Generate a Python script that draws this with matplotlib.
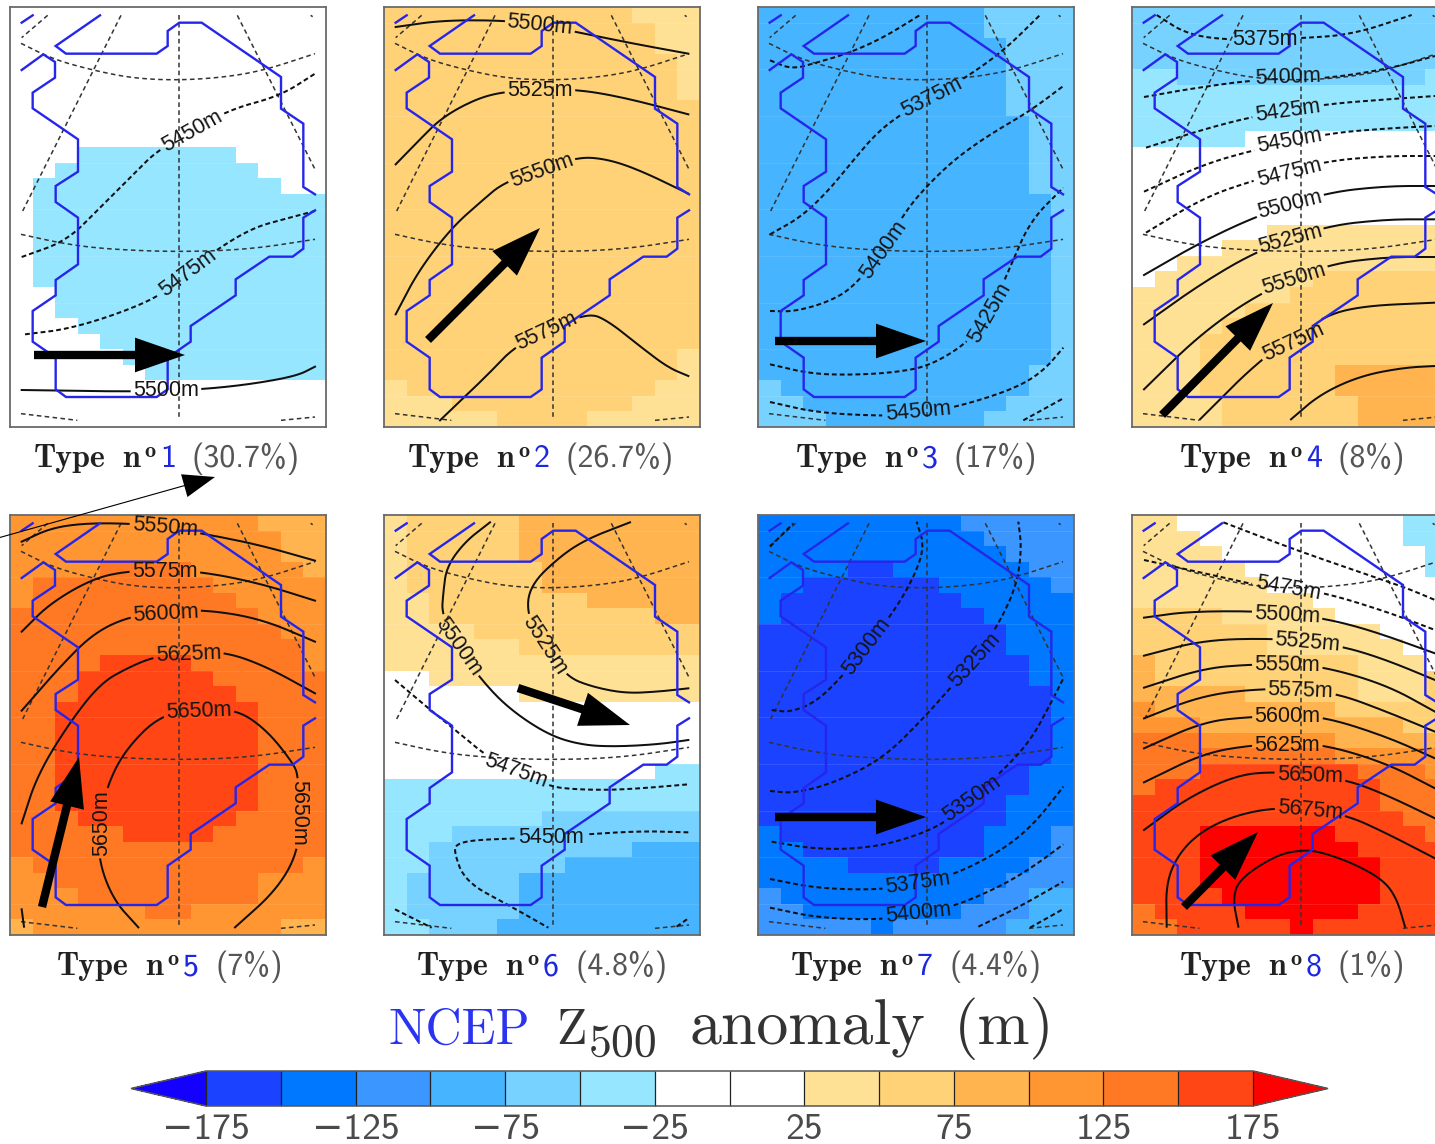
import re
import numpy as np
import matplotlib
matplotlib.use("Agg")
import matplotlib.pyplot as plt
from matplotlib.colors import ListedColormap, BoundaryNorm
from matplotlib.colorbar import ColorbarBase
from matplotlib.patches import FancyArrowPatch

W, H = 1435, 1144

# ---- colour classes (anomaly in m) -----------------------------------------
LEVELS = list(range(-175, 176, 25))
CLASS_COLORS = ["#1a42ff", "#0078ff", "#3c96ff", "#46b4ff", "#78d2ff", "#96e6ff",
                "#ffffff", "#ffffff", "#ffe196", "#ffd278", "#ffb450", "#ff9632",
                "#ff7823", "#ff4614"]
UNDER_COLOR, OVER_COLOR = "#1400ff", "#ff0000"
CLASS_VALUES = {"a": -162.5, "b": -137.5, "c": -112.5, "d": -87.5, "e": -62.5, "f": -37.5,
                ".": 0.0, "g": 37.5, "h": 62.5, "i": 87.5, "j": 112.5, "k": 137.5,
                "l": 162.5, "m": 187.5}

# ---- anomaly fields: 27 rows x 14 columns, run-length coded ------------------
FIELD_1 = ["14."] * 9 + ["3.7f4.", "2.9f3.", "1.11f2."] + ["1.13f"] * 6 + \
          ["2.12f"] * 2 + ["3.11f", "4.10f", "5.9f", "6.8f"] + ["14."] * 3
FIELD_2 = ["11h3g"] + ["12h2g"] * 2 + ["13h1g"] * 3 + ["14h"] * 16 + ["13h1g"] * 2 + \
          ["1g11h2g", "3g8h3g", "5g4h5g"]
FIELD_3 = ["10d4e"] * 2 + ["11d3e"] * 5 + ["12d2e"] * 5 + ["13d1e"] * 11 + ["12d2e"] + \
          ["1e11d2e", "2e9d3e", "3e7d4e"]
FIELD_4 = ["14e"] * 4 + ["2f11e1f"] + ["14f"] * 3 + ["5f9."] + ["14."] * 5 + \
          ["6.8g", "4.10g", "2.12g", "1.7g6h", "7g7h", "5g9h", "4g10h"] + ["3g11h"] * 2 + \
          ["3g6h5i"] * 2 + ["4g6h4i"] * 2
FIELD_5 = ["11j3i"] + ["12j2i"] * 2 + ["4j4k5j1i", "1j8k5j", "1j9k4j", "11k3j", "12k2j",
          "13k1j", "4k4l5k1j", "3k6l5k", "3k7l4k"] + ["2k9l3k"] * 7 + \
          ["3k7l4k", "5k4l5k", "14k", "1j12k1j", "2j9k3j", "3j8k3j", "6j2k6j", "1i11j2i"]
FIELD_6 = ["1g5h8i"] * 3 + ["1g6h7i"] * 2 + ["2g7h5i", "2g10h2i", "4g10h", "6g8h", "14g",
          "2.12g", "6.8g"] + ["14."] * 4 + ["12.2f"] + ["14f"] * 2 + \
          ["7f7e", "3f11e", "2f9e3d", "2f6e6d"] + ["1f5e8d"] * 3 + ["2f3e9d"]
FIELD_7 = ["9b5c", "10b4c", "11b3c", "4b2a6b2c", "2b6a5b1c", "1b8a5b", "1b9a4b"] + \
          ["11a3b"] * 2 + ["12a2b"] * 2 + ["13a1b"] * 5 + ["12a2b"] * 2 + ["11a3b"] * 2 + \
          ["1b9a3b1c", "2b8a3b1c", "4b4a4b2c", "11b3c", "1c9b2c2d", "2c7b3c2d", "5c1b5c3d"]
FIELD_8 = ["2g10.2f", "3g9.2f", "4g9.1f", "5g8.1f", "6g8.", "8g6.", "4h5g5.", "6h5g3.",
           "6h6g2.", "1i9h3g1.", "1i9h3g1h", "5i5h3g1h", "1j8i5h", "3j9i2h", "3k6j5i",
           "9k5j", "3k7l3k1j", "1k10l3k", "11l3k", "12l2k", "3l6m4l1k", "3l7m4l",
           "3l8m3l", "3l8m3l", "4l7m3l", "1k4l5m4l", "2k5l1m6l"]
FIELDS = [FIELD_1, FIELD_2, FIELD_3, FIELD_4, FIELD_5, FIELD_6, FIELD_7, FIELD_8]

# ---- background map (reference map units) ------------------------------------
COAST_MAIN = [(65, 207), (130, 160), (165, 183), (165, 230), (98, 275), (98, 322), (234, 415),
              (234, 512), (167, 555), (167, 603), (234, 650), (234, 790), (167, 837), (167, 883),
              (98, 930), (98, 1022), (167, 1070), (167, 1165), (198, 1188), (470, 1188),
              (503, 1165), (503, 1070), (572, 1022), (572, 975), (707, 883), (707, 835),
              (808, 767), (878, 767), (910, 743), (910, 650), (945, 628)]
COAST_NORTH = [(945, 580), (910, 558), (910, 368), (843, 323), (843, 228), (605, 65), (538, 65),
               (503, 90), (503, 135), (470, 158), (198, 158), (167, 135), (300, 43)]
COAST_ISLE = [(65, 65), (98, 43)]
GRATICULE = [
    [(538, 43), (538, 1258)],
    [(363, 43), (68, 630)],
    [(143, 43), (65, 110)],
    [(712, 43), (945, 505)],
    [(63, 127), (160, 175), (280, 208), (400, 232), (538, 238), (680, 228), (795, 207), (945, 158)],
    [(63, 700), (200, 730), (330, 745), (538, 753), (750, 745), (945, 715)],
    [(63, 1238), (232, 1258)],
    [(843, 1258), (945, 1248)],
    [(932, 43), (938, 47)],
]

# ---- geopotential height contours: (level, vertices, [(x, y, rotation), ...]) ---
CONTOURS_1 = [
    (5450, [(65, 768), (200, 720), (300, 620), (400, 520), (470, 450), (578, 390), (690, 325), (840, 285), (945, 218)], [(578, 390, 29)]),
    (5475, [(75, 1000), (200, 985), (350, 940), (480, 885), (565, 815), (650, 745), (760, 680), (850, 655), (945, 630)], [(565, 815, 37)]),
    (5500, [(65, 1167), (385, 1172), (497, 1168), (605, 1165), (750, 1150), (890, 1125), (945, 1097)], [(497, 1168, 0)]),
]
CONTOURS_2 = [
    (5500, [(62, 78), (200, 58), (385, 58), (495, 72), (600, 92), (760, 125), (940, 158)], [(495, 72, -6)]),
    (5525, [(62, 490), (130, 420), (200, 350), (300, 295), (385, 272), (495, 268), (605, 265), (750, 290), (940, 340)], [(495, 270, 0)]),
    (5550, [(62, 940), (130, 810), (230, 680), (320, 600), (385, 545), (500, 508), (610, 467), (700, 475), (800, 510), (940, 578)], [(500, 508, 20)]),
    (5575, [(195, 1258), (340, 1120), (415, 1040), (515, 990), (640, 935), (700, 960), (800, 1040), (880, 1100), (940, 1125)], [(515, 990, 25)]),
]
CONTOURS_3 = [
    (5375, [(60, 178), (125, 205), (200, 185), (300, 155), (400, 110), (510, 42)], []),
    (5375, [(60, 700), (150, 650), (230, 575), (300, 490), (380, 395), (460, 335), (545, 285), (640, 235), (760, 150), (870, 42)], [(545, 288, 27)]),
    (5400, [(60, 930), (130, 932), (230, 905), (310, 860), (400, 745), (470, 625), (540, 545), (620, 470), (720, 400), (840, 330), (940, 255)], [(400, 745, 55)]),
    (5425, [(60, 1090), (180, 1118), (300, 1122), (430, 1115), (540, 1095), (660, 1020), (720, 935), (780, 800), (840, 660), (940, 560)], [(720, 935, 60)]),
    (5450, [(60, 1203), (200, 1235), (390, 1245), (505, 1240), (650, 1210), (800, 1160), (880, 1110), (940, 1040)], [(505, 1232, 5)]),
    (5475, [(820, 1258), (940, 1192)], []),
]
CONTOURS_4 = [
    (5375, [(110, 42), (200, 100), (330, 118), (545, 112), (700, 100), (875, 42)], [(435, 115, 0)]),
    (5400, [(72, 288), (200, 265), (410, 235), (600, 235), (800, 205), (945, 165)], [(505, 230, 2)]),
    (5425, [(78, 440), (250, 385), (405, 345), (610, 310), (800, 295), (945, 285)], [(505, 330, 8)]),
    (5450, [(72, 572), (250, 490), (410, 445), (615, 398), (800, 382), (945, 375)], [(508, 420, 10)]),
    (5475, [(78, 695), (250, 590), (410, 535), (615, 480), (800, 465), (945, 465)], [(508, 515, 14)]),
    (5500, [(72, 822), (240, 725), (410, 645), (615, 575), (800, 555), (945, 555)], [(510, 610, 14)]),
    (5525, [(72, 970), (240, 850), (410, 750), (615, 675), (800, 655), (945, 655)], [(510, 715, 15)]),
    (5550, [(72, 1165), (240, 1000), (420, 875), (620, 790), (800, 768), (945, 768)], [(523, 835, 17)]),
    (5575, [(240, 1255), (420, 1075), (600, 950), (720, 915), (945, 905)], [(520, 1025, 25)]),
    (5600, [(513, 1255), (600, 1180), (720, 1125), (850, 1100), (945, 1095)], []),
]
CONTOURS_5 = [
    (5550, [(65, 215), (150, 175), (250, 160), (385, 160), (495, 172), (605, 190), (780, 225), (945, 272)], [(495, 172, -5)]),
    (5575, [(65, 485), (150, 400), (280, 325), (385, 303), (495, 303), (605, 305), (780, 340), (945, 392)], [(495, 305, 0)]),
    (5600, [(65, 722), (180, 590), (280, 490), (385, 440), (497, 428), (605, 418), (780, 445), (945, 515)], [(497, 430, 3)]),
    (5625, [(65, 1060), (110, 920), (200, 770), (300, 640), (390, 590), (465, 560), (565, 550), (675, 545), (800, 590), (945, 670)], [(565, 553, 2)]),
    (5650, [(415, 1372), (340, 1290), (295, 1170), (300, 1060), (320, 950), (375, 840), (480, 735), (597, 720), (710, 718), (800, 780), (880, 880), (895, 920), (895, 1030), (895, 1145), (830, 1260), (705, 1372)],
     [(305, 1060, 90), (597, 725, 2), (895, 1030, -90)]),
    (5600, [(65, 1318), (72, 1370)], []),
]
CONTOURS_6 = [
    (5500, [(345, 52), (270, 110), (215, 185), (205, 260), (200, 330), (250, 425), (315, 520), (400, 610), (520, 690), (620, 720), (720, 725), (850, 718), (940, 705)], [(250, 425, -55)]),
    (5525, [(765, 52), (640, 100), (560, 150), (465, 240), (455, 330), (510, 422), (575, 515), (650, 545), (750, 565), (850, 560), (940, 550)], [(510, 422, -57)]),
    (5475, [(60, 525), (160, 610), (260, 690), (330, 750), (422, 797), (525, 845), (600, 853), (700, 855), (800, 850), (940, 838)], [(422, 797, -20)]),
    (5450, [(940, 982), (800, 978), (630, 988), (527, 997), (425, 1000), (300, 1005), (250, 1015), (235, 1035), (270, 1130), (400, 1200), (520, 1268)], [(527, 997, 0)]),
    (5475, [(60, 1213), (170, 1268)], []),
    (5425, [(905, 1265), (940, 1240)], []),
]
CONTOURS_7 = [
    (5275, [(60, 125), (130, 55)], []),
    (5300, [(65, 615), (120, 622), (200, 590), (280, 510), (350, 425), (420, 335), (480, 240), (525, 130), (500, 50)], [(350, 425, 53)]),
    (5325, [(60, 858), (130, 865), (250, 835), (400, 760), (520, 640), (600, 550), (675, 465), (750, 350), (800, 240), (815, 130), (805, 50)], [(675, 465, 48)]),
    (5350, [(65, 1010), (180, 1030), (300, 1033), (430, 1015), (580, 960), (665, 880), (750, 805), (840, 710), (905, 590), (940, 520)], [(665, 880, 35)]),
    (5375, [(60, 1122), (200, 1150), (390, 1155), (505, 1135), (610, 1110), (750, 1040), (850, 960), (940, 845)], [(505, 1135, 8)]),
    (5400, [(60, 1208), (200, 1238), (390, 1245), (505, 1225), (610, 1205), (750, 1145), (850, 1085), (940, 1018)], [(505, 1225, 6)]),
    (5425, [(685, 1265), (800, 1210), (940, 1130)], []),
    (5450, [(840, 1268), (940, 1212)], []),
]
CONTOURS_8 = [
    (5450, [(310, 52), (500, 125), (700, 195), (850, 245), (945, 285)], []),
    (5475, [(72, 165), (300, 215), (405, 240), (505, 250), (610, 262), (800, 320), (945, 375)], [(505, 250, -10)]),
    (5500, [(72, 338), (200, 320), (395, 318), (502, 328), (612, 340), (750, 375), (945, 445)], [(502, 330, -3)]),
    (5525, [(72, 452), (250, 405), (455, 400), (563, 412), (672, 425), (800, 465), (945, 525)], [(563, 412, -5)]),
    (5550, [(72, 548), (250, 490), (395, 478), (502, 480), (612, 485), (800, 540), (945, 620)], [(502, 480, -1)]),
    (5575, [(72, 640), (250, 570), (435, 550), (541, 558), (652, 565), (800, 620), (945, 680)], [(541, 558, -2)]),
    (5600, [(72, 730), (250, 650), (395, 635), (502, 635), (612, 635), (800, 695), (945, 760)], [(502, 635, 0)]),
    (5625, [(72, 832), (250, 745), (395, 720), (502, 720), (612, 718), (800, 775), (945, 850)], [(502, 722, 0)]),
    (5650, [(72, 975), (200, 880), (350, 810), (465, 800), (570, 812), (682, 825), (800, 870), (945, 940)], [(570, 812, -2)]),
    (5675, [(140, 1265), (138, 1130), (180, 1040), (250, 975), (350, 930), (465, 908), (570, 917), (680, 930), (800, 985), (945, 1060)], [(570, 917, -5)]),
    (5700, [(355, 1265), (338, 1180), (360, 1120), (470, 1050), (545, 1035), (600, 1040), (700, 1075), (790, 1125), (830, 1180), (855, 1265)], []),
]
CONTOURS = [CONTOURS_1, CONTOURS_2, CONTOURS_3, CONTOURS_4, CONTOURS_5, CONTOURS_6, CONTOURS_7, CONTOURS_8]

# ---- panel captions and wind arrows -------------------------------------------
TYPE_NUMBERS = ["1", "2", "3", "4", "5", "6", "7", "8"]
TYPE_SHARES = ["(30.7%)", "(26.7%)", "(17%)", "(8%)", "(7%)", "(4.8%)", "(4.4%)", "(1%)"]
ARROWS = [((34, 355), (185, 355)), ((428, 340), (540, 228)), ((775, 341), (926, 341)),
          ((1162, 415), (1273, 303)), ((42, 907), (79, 757)), ((518, 688), (630, 725)),
          ((775, 817), (926, 817)), ((1184, 907), (1258, 832))]
STRAY_ARROW = ((-2, 538), (215, 477))
CBAR_TICKS = [-175, -125, -75, -25, 25, 75, 125, 175]

# ---- layout (pixels) -----------------------------------------------------------
PANEL_LEFT = [10, 384, 758, 1132, 10, 384, 758, 1132]
PANEL_TOP = [7, 7, 7, 7, 515, 515, 515, 515]
PANEL_W, PANEL_H = 316, 420
MAP_W, MAP_H = 948, 1260
ORIGIN_X = [30, 27, 24, 36, 30, 27, 24, 36]
ORIGIN_Y = [18, 18, 18, 18, 135, 30, 30, 30]
CAPTION_X = [34, 408, 796, 1180, 57, 417, 791, 1180]
CAPTION_BASE = [467, 467, 467, 467, 975, 975, 975, 975]

fig = plt.figure(figsize=(W / 100, H / 100), dpi=100, facecolor="white")


def axes_px(left, top, width, height, **kw):
    return fig.add_axes([left / W, 1 - (top + height) / H, width / W, height / H], **kw)


cmap = ListedColormap(CLASS_COLORS)
cmap.set_under(UNDER_COLOR)
cmap.set_over(OVER_COLOR)
norm = BoundaryNorm(LEVELS, cmap.N)


def decode(rows):
    out = []
    for row in rows:
        cells = []
        for n, key in re.findall(r"(\d+)([a-m.])", row):
            cells += [CLASS_VALUES[key]] * int(n)
        out.append(cells)
    return np.array(out, dtype=float)


def smooth(points, n=3):
    p = np.asarray(points, dtype=float)
    if len(p) < 3:
        return p
    for _ in range(n):
        q = 0.75 * p[:-1] + 0.25 * p[1:]
        r = 0.25 * p[:-1] + 0.75 * p[1:]
        p = np.vstack([p[0], np.column_stack([q, r]).reshape(-1, 2), p[-1]])
    return p


def with_gaps(points, labels, half_w=108, half_h=30):
    p = smooth(points)
    seg = np.hypot(*np.diff(p, axis=0).T)
    s = np.concatenate([[0], np.cumsum(seg)])
    t = np.arange(0, s[-1] + 2, 2.0)
    x, y = np.interp(t, s, p[:, 0]), np.interp(t, s, p[:, 1])
    keep = np.ones_like(x, dtype=bool)
    for lx, ly, rot in labels:
        a = np.deg2rad(rot)
        dx, dy = x - lx, y - ly
        along = dx * np.cos(a) - dy * np.sin(a)
        across = dx * np.sin(a) + dy * np.cos(a)
        keep &= ~((np.abs(along) < half_w) & (np.abs(across) < half_h))
    x = np.where(keep, x, np.nan)
    return x, y


row_edges = np.linspace(0, MAP_H, 28)

for i in range(8):
    ax = axes_px(PANEL_LEFT[i], PANEL_TOP[i], PANEL_W, PANEL_H)
    ax.set_xlim(0, MAP_W)
    ax.set_ylim(MAP_H, 0)
    ax.set_xticks([])
    ax.set_yticks([])
    for sp in ax.spines.values():
        sp.set_color("#6a6a6a")
        sp.set_linewidth(1.3)
    ax.pcolormesh(np.linspace(0, MAP_W, 15), row_edges, decode(FIELDS[i]),
                  cmap=cmap, norm=norm, linewidth=0, rasterized=True)
    ax.hlines(row_edges[1:-1:3], 0, MAP_W, color="white", lw=0.8, alpha=0.1, zorder=1)
    for g in GRATICULE:
        g = smooth(g)
        ax.plot(g[:, 0] - 30, g[:, 1] - 18, color="#333333", lw=1.1, ls=(0, (3.0, 2.2)), zorder=2)
    for c in (COAST_MAIN, COAST_NORTH, COAST_ISLE):
        c = np.array(c, dtype=float)
        ax.plot(c[:, 0] - 30, c[:, 1] - 18, color="#2626ea", lw=1.7, zorder=4,
                solid_joinstyle="miter")
    for level, verts, labels in CONTOURS[i]:
        x, y = with_gaps(verts, labels)
        ls = "-" if level >= 5500 else (0, (2.4, 1.5))
        ax.plot(x - ORIGIN_X[i], y - ORIGIN_Y[i], color="#101010", lw=1.45, ls=ls, zorder=3)
        for lx, ly, rot in labels:
            ax.text(lx - ORIGIN_X[i], ly - ORIGIN_Y[i], f"{level}m", family="Liberation Sans",
                    fontsize=15.5, color="#151515", rotation=rot, rotation_mode="anchor",
                    ha="center", va="center", zorder=5)

# colour bar (axes span the two end triangles as well)
cax = axes_px(131, 1071, 1197, 35)
cb = ColorbarBase(cax, cmap=cmap, norm=norm, orientation="horizontal", extend="both",
                  extendfrac=75 / 1048, spacing="uniform", drawedges=True, ticks=CBAR_TICKS)
cb.dividers.set_color("#222222")
cb.dividers.set_linewidth(0.9)
cb.outline.set_edgecolor("#555555")
cb.outline.set_linewidth(1.1)
cb.ax.minorticks_off()
cb.ax.tick_params(length=0, pad=5)
cb.ax.set_xticklabels([str(t).replace("-", "\u2212") for t in CBAR_TICKS],
                      family=["cmss10", "DejaVu Sans"], fontsize=27, color="#4a4a4a")

# overlay in reference pixels: captions, title, arrows
ov = fig.add_axes([0, 0, 1, 1], facecolor="none", zorder=10)
ov.set_xlim(0, W)
ov.set_ylim(H, 0)
ov.axis("off")

for i in range(8):
    x0, yb = CAPTION_X[i], CAPTION_BASE[i]
    ov.text(x0, yb, "Type", family="cmb10", fontsize=23, color="#222222", va="baseline")
    ov.text(x0 + 88, yb, "n", family="cmb10", fontsize=23, color="#222222", va="baseline")
    ov.text(x0 + 110, yb - 10, "o", family="cmb10", fontsize=16, color="#222222", va="baseline")
    ov.text(x0 + 126, yb, TYPE_NUMBERS[i], family="cmss10", fontsize=23, color="#1c28e0", va="baseline")
    ov.text(x0 + 158, yb, TYPE_SHARES[i], family="cmss10", fontsize=23, color="#555555", va="baseline")

ov.text(388, 1044, "NCEP", family="cmr10", fontsize=36, color="#2a34f0", va="baseline")
ov.text(556, 1044, "Z", family="cmr10", fontsize=36, color="#333333", va="baseline")
ov.text(589, 1056, "500", family="cmr10", fontsize=33, color="#333333", va="baseline")
ov.text(689, 1044, "anomaly", family="cmr10", fontsize=46, color="#333333", va="baseline")
ov.text(954, 1044, "(m)", family="cmr10", fontsize=45, color="#333333", va="baseline")

for tail, tip in ARROWS:
    ov.add_patch(FancyArrowPatch(tail, tip, mutation_scale=1, shrinkA=0, shrinkB=0, color="black",
                                 lw=0, arrowstyle="simple,head_length=36,head_width=25,tail_width=6",
                                 zorder=20))
ov.add_patch(FancyArrowPatch(STRAY_ARROW[0], STRAY_ARROW[1], mutation_scale=1, shrinkA=0, shrinkB=0,
                             color="black", lw=0,
                             arrowstyle="simple,head_length=23,head_width=17,tail_width=0.8", zorder=20))

fig.savefig("out.png", dpi=100)
